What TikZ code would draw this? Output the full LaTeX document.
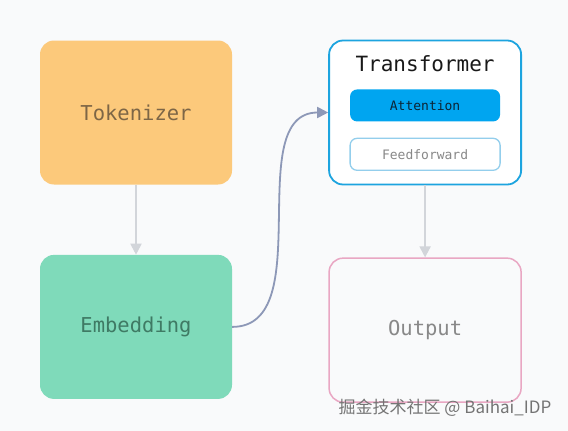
\documentclass[tikz,border=0pt]{standalone}
\usepackage{fontspec}
\newfontfamily\diagfont{DejaVu Sans Mono}
\newfontfamily\cjkfont{Noto Sans CJK SC}
\usetikzlibrary{arrows.meta, positioning}
\definecolor{canvas}{HTML}{F9FAFB}
\definecolor{tokorange}{HTML}{FCC97B}
\definecolor{toktext}{HTML}{7D6646}
\definecolor{embgreen}{HTML}{7FDABA}
\definecolor{embtext}{HTML}{3F7A64}
\definecolor{transblue}{HTML}{1DA4DF}
\definecolor{attblue}{HTML}{00A5F0}
\definecolor{atttext}{HTML}{0C2535}
\definecolor{ffblue}{HTML}{93CEEC}
\definecolor{outpink}{HTML}{E9A7C3}
\definecolor{softgray}{HTML}{888888}
\definecolor{arrowgray}{HTML}{D2D5DA}
\definecolor{curveslate}{HTML}{8D98B7}

\begin{document}
\begin{tikzpicture}[
    x=1pt, y=-1pt,
    >={Triangle[length=11pt, width=11pt]},
    node distance=70pt and 96pt,
    block/.style={rounded corners=14pt, minimum width=192pt, minimum height=144pt, inner sep=0pt, font=\diagfont\fontsize{20.5}{24}\selectfont},
    inner/.style={rounded corners=7pt, minimum width=150pt, minimum height=32pt, inner sep=0pt, font=\diagfont\fontsize{13}{15}\selectfont},
    flow/.style={->, line width=1.8pt, color=arrowgray},
    link/.style={->, line width=1.8pt, color=curveslate},
    wmark/.style={font=\cjkfont\fontsize{17}{19}\selectfont, color=softgray!85!black},
]

% Canvas
\fill[canvas] (0,0) rectangle (568,431);
\useasboundingbox (0,0) rectangle (568,431);

% Main blocks
\node[block, fill=tokorange, text=toktext] (tok) at (136,112.5) {Tokenizer};
\node[block, fill=embgreen, text=embtext, below=of tok] (emb) {Embedding};
\node[block, fill=white, draw=transblue, line width=1.8pt, right=of tok] (trans) {};
\node[block, fill=canvas, draw=outpink, line width=1.5pt, text=softgray, below=72pt of trans] (out) {Output};

% Inside the transformer
\node[inner sep=0pt, font=\diagfont\fontsize{21}{24}\selectfont, text=black!90, below=16pt of trans.north] (ttl) {Transformer};
\node[inner, fill=attblue, text=atttext, below=17pt of ttl] (att) {Attention};
\node[inner, fill=white, draw=ffblue, line width=1.3pt, text=softgray, below=16pt of att] (ff) {Feedforward};

% Arrows
\draw[flow] (tok) -- (emb);
\draw[flow] (trans) -- (out);
\draw[link] (emb.east) to[out=0, in=180, looseness=0.95] (trans.west);

% Watermark
\node[wmark] (wm) at (445,408) {掘金技术社区 @ Baihai\_IDP};

\end{tikzpicture}
\end{document}
